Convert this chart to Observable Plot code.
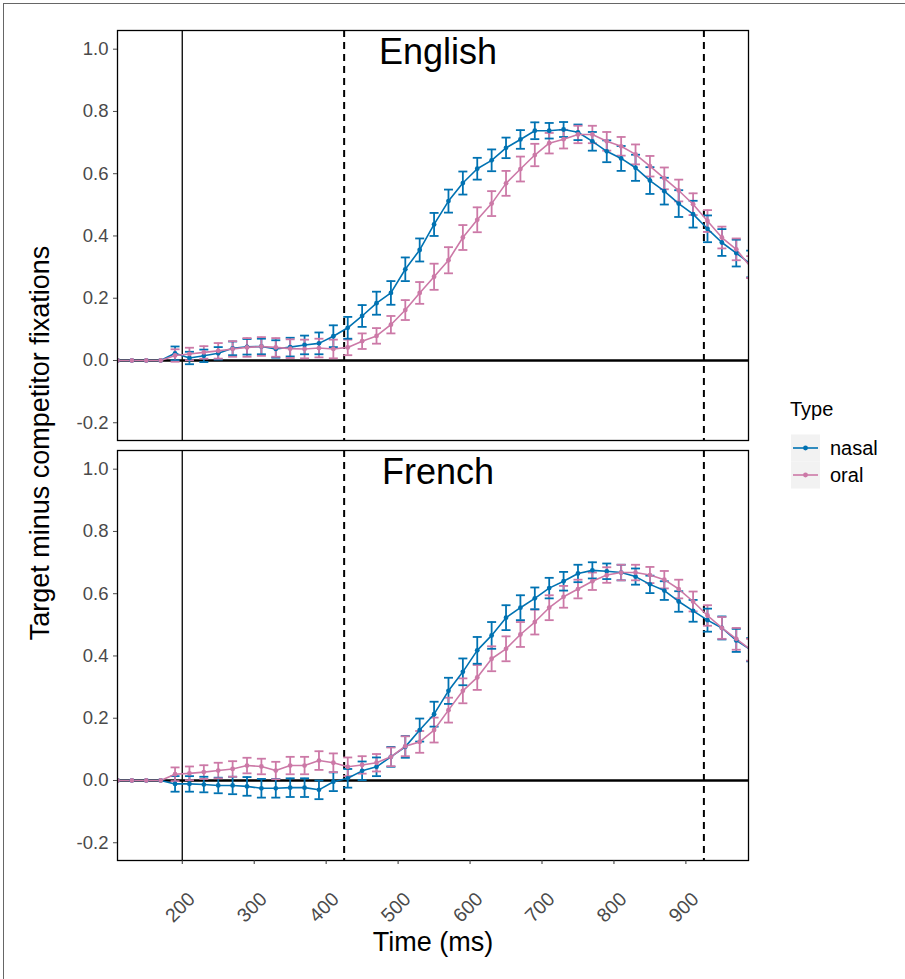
<!DOCTYPE html>
<html><head><meta charset="utf-8">
<script src="https://cdn.jsdelivr.net/npm/d3@7"></script>
<script src="https://cdn.jsdelivr.net/npm/@observablehq/plot@0.6"></script>
<style>
body{margin:0;background:#fff;font-family:"Liberation Sans",Arial,sans-serif;}
#wrap{position:relative;width:905px;height:979px;overflow:hidden;background:#fff;}
#chart{position:absolute;left:0;top:0;}
.border{position:absolute;left:3px;top:3px;width:1200px;height:1200px;border:1.5px solid #666;}
.ytitle{position:absolute;left:40px;top:443px;transform:translate(-50%,-50%) rotate(-90deg);white-space:nowrap;font-size:27px;color:#000;}
.xtitle{position:absolute;left:433px;top:942px;transform:translate(-50%,-50%);white-space:nowrap;font-size:27px;color:#000;}
#legend{position:absolute;left:786px;top:396px;}
</style></head><body>
<div id="wrap">
  <div class="border"></div>
  <div id="chart"></div>
  <div class="ytitle">Target minus competitor fixations</div>
  <div class="xtitle">Time (ms)</div>
  <div id="legend"></div>
</div>
<script>
const times = [110,130,150,170,190,210,230,250,270,290,310,330,350,370,390,410,430,450,470,490,510,530,550,570,590,610,630,650,670,690,710,730,750,770,790,810,830,850,870,890,910,930,950,970,990];
const languages = ["English","French"];
const types = ["nasal","oral"];
const typeColors = ["#0072B2","#CC79A7"];
const xTicks = [200,300,400,500,600,700,800,900];
const yTicks = [-0.2,0,0.2,0.4,0.6,0.8,1.0];
const solidLine = [200];
const dashedLines = [425,925];

const englishNasal = [0,0,0,0,0.023,0.008,0.015,0.023,0.039,0.044,0.045,0.037,0.043,0.050,0.055,0.078,0.105,0.143,0.184,0.217,0.293,0.355,0.437,0.512,0.570,0.616,0.643,0.683,0.710,0.738,0.738,0.742,0.733,0.704,0.672,0.649,0.619,0.578,0.544,0.504,0.470,0.423,0.379,0.345,0.310];
const englishNasalSE = [0,0,0,0,0.022,0.02,0.02,0.02,0.022,0.025,0.025,0.028,0.03,0.03,0.035,0.035,0.035,0.035,0.037,0.038,0.038,0.037,0.037,0.037,0.037,0.035,0.035,0.033,0.03,0.027,0.025,0.024,0.025,0.03,0.035,0.04,0.042,0.043,0.043,0.043,0.043,0.043,0.043,0.043,0.043];
const englishOral = [0,0,0,0,0.016,0.021,0.026,0.031,0.037,0.042,0.045,0.042,0.038,0.037,0.040,0.037,0.042,0.062,0.079,0.115,0.162,0.217,0.269,0.322,0.395,0.452,0.504,0.569,0.615,0.660,0.698,0.711,0.726,0.726,0.704,0.688,0.662,0.624,0.585,0.546,0.502,0.448,0.395,0.357,0.300];
const englishOralSE = [0,0,0,0,0.02,0.02,0.02,0.025,0.025,0.03,0.03,0.03,0.03,0.03,0.03,0.03,0.025,0.025,0.025,0.028,0.032,0.035,0.042,0.042,0.04,0.04,0.04,0.04,0.04,0.036,0.033,0.03,0.028,0.028,0.03,0.03,0.032,0.033,0.035,0.035,0.035,0.035,0.035,0.035,0.035];
const frenchNasal = [0,0,0,0,-0.011,-0.011,-0.013,-0.016,-0.016,-0.019,-0.025,-0.025,-0.023,-0.023,-0.030,-0.004,0.007,0.031,0.044,0.076,0.108,0.162,0.213,0.288,0.349,0.418,0.466,0.523,0.555,0.585,0.618,0.640,0.665,0.675,0.672,0.668,0.655,0.630,0.610,0.575,0.545,0.515,0.490,0.450,0.420];
const frenchNasalSE = [0,0,0,0,0.025,0.025,0.025,0.025,0.028,0.03,0.03,0.03,0.03,0.03,0.03,0.03,0.03,0.03,0.03,0.032,0.035,0.037,0.04,0.042,0.043,0.043,0.043,0.04,0.04,0.035,0.033,0.03,0.028,0.026,0.025,0.025,0.026,0.028,0.03,0.033,0.035,0.037,0.037,0.037,0.037];
const frenchOral = [0,0,0,0,0.020,0.023,0.027,0.032,0.037,0.048,0.045,0.032,0.048,0.048,0.064,0.057,0.044,0.050,0.057,0.076,0.110,0.124,0.162,0.226,0.288,0.331,0.391,0.423,0.469,0.509,0.555,0.590,0.615,0.640,0.660,0.668,0.668,0.660,0.645,0.615,0.575,0.530,0.490,0.455,0.420];
const frenchOralSE = [0,0,0,0,0.022,0.022,0.022,0.025,0.025,0.025,0.025,0.028,0.028,0.028,0.03,0.03,0.03,0.028,0.028,0.03,0.032,0.035,0.04,0.04,0.04,0.04,0.04,0.04,0.04,0.04,0.04,0.035,0.03,0.028,0.025,0.025,0.025,0.026,0.028,0.03,0.032,0.033,0.035,0.035,0.035];

const series = [
  ["English","nasal",englishNasal,englishNasalSE],
  ["French","nasal",frenchNasal,frenchNasalSE],
  ["English","oral",englishOral,englishOralSE],
  ["French","oral",frenchOral,frenchOralSE]
];
const data = [];
for (const [lang,type,vals,ses] of series) {
  times.forEach((t,i)=>data.push({lang,type,t,v:vals[i],se:ses[i]}));
}
const errData = data.filter(d=>d.se>0);
const cap = {draw(ctx){ ctx.moveTo(-4.5,0); ctx.lineTo(4.5,0); }};
const color = {domain: types, range: typeColors};

const plot = Plot.plot({
  width: 905, height: 979,
  marginLeft: 117, marginRight: 157, marginTop: 29, marginBottom: 118,
  style: {fontFamily: '"Liberation Sans", Arial, sans-serif', background: "transparent"},
  x: {domain: [110, 987]},
  y: {domain: [-0.257, 1.06]},
  fy: {domain: languages, axis: null, paddingInner: 0.023, paddingOuter: 0},
  color,
  marks: [
    Plot.ruleX(solidLine, {stroke: "#000", strokeWidth: 1.3}),
    Plot.ruleX(dashedLines, {stroke: "#000", strokeWidth: 2, strokeDasharray: "7,5"}),
    Plot.ruleY([0], {stroke: "#000", strokeWidth: 2.6}),
    Plot.ruleX(errData, {x: "t", y1: d=>d.v-d.se, y2: d=>d.v+d.se, stroke: "type", fy: "lang", strokeWidth: 1.8, clip: true}),
    Plot.dot(errData, {x: "t", y: d=>d.v+d.se, symbol: cap, stroke: "type", fill: "none", strokeWidth: 1.8, fy: "lang", clip: true}),
    Plot.dot(errData, {x: "t", y: d=>d.v-d.se, symbol: cap, stroke: "type", fill: "none", strokeWidth: 1.8, fy: "lang", clip: true}),
    Plot.line(data, {x: "t", y: "v", z: "type", stroke: "type", strokeWidth: 1.6, fy: "lang", clip: true}),
    Plot.dot(data, {x: "t", y: "v", fill: "type", r: 2.4, fy: "lang", clip: true}),
    Plot.text(languages, {fy: d=>d, text: d=>d, frameAnchor: "top", lineAnchor: "top", dx: 5, dy: 8, fontSize: 36, fill: "#000"}),
    Plot.frame({stroke: "#000", strokeWidth: 1.3}),
    Plot.axisY({ticks: yTicks, tickFormat: d=>d.toFixed(1), fontSize: 18.5, tickSize: 4, tickPadding: 5, color: "#4a4a4a", label: null}),
    Plot.axisX({ticks: xTicks, tickSize: 4, tickFormat: () => "", color: "#333", label: null}),
    Plot.text(xTicks, {x: d=>d, text: d=>String(d), fy: ()=>"French", frameAnchor: "bottom", rotate: -45, textAnchor: "middle", lineAnchor: "middle", dx: -2, dy: 47, fontSize: 19.5, fill: "#4a4a4a"})
  ]
});
document.getElementById("chart").appendChild(plot);

// legend
const lg = d3.select("#legend").append("svg").attr("width", 115).attr("height", 100)
  .style("font-family", '"Liberation Sans", Arial, sans-serif');
lg.append("text").attr("x", 4).attr("y", 20).attr("font-size", 20).text("Type");
types.forEach((t,i)=>{
  const cy = 52 + i*27;
  lg.append("rect").attr("x", 5).attr("y", cy-13.5).attr("width", 29).attr("height", 27).attr("fill", "#f2f2f2");
  lg.append("line").attr("x1", 7).attr("x2", 32).attr("y1", cy).attr("y2", cy).attr("stroke", typeColors[i]).attr("stroke-width", 1.6);
  lg.append("circle").attr("cx", 19.5).attr("cy", cy).attr("r", 2.4).attr("fill", typeColors[i]);
  lg.append("text").attr("x", 44).attr("y", cy).attr("dy", "0.35em").attr("font-size", 20).text(t);
});
</script>
</body></html>
